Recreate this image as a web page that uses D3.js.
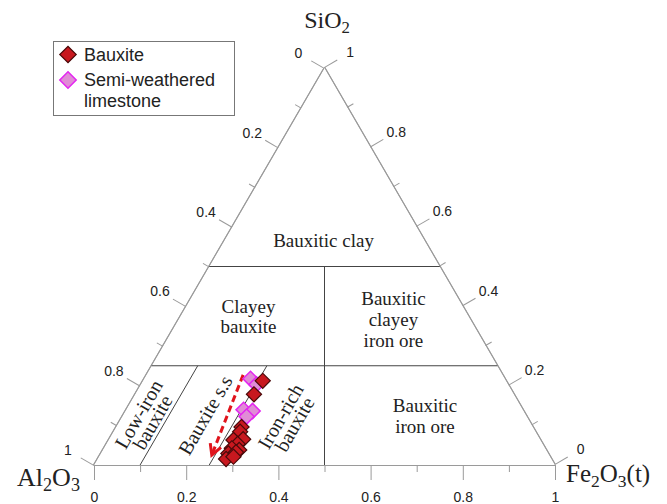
<!DOCTYPE html>
<html>
<head>
<meta charset="utf-8">
<script src="https://cdn.jsdelivr.net/npm/d3@7"></script>
<style>
  body { margin: 0; background: #fff; }
  svg { display: block; }
</style>
</head>
<body>
<div id="chart"></div>
<script>
// Ternary data (fractions). Al2O3 = 1 - SiO2 - Fe2O3
const bauxiteSiO2 = [0.212, 0.178, 0.096, 0.084, 0.063, 0.065, 0.053, 0.042, 0.038, 0.029, 0.032, 0.015, 0.021];
const bauxiteFe2O3 = [0.260, 0.258, 0.272, 0.275, 0.271, 0.291, 0.285, 0.278, 0.296, 0.277, 0.292, 0.279, 0.292];
const limestoneSiO2 = [0.217, 0.203, 0.139, 0.136, 0.122];
const limestoneFe2O3 = [0.231, 0.251, 0.255, 0.276, 0.270];

const majorTicks = [0, 0.2, 0.4, 0.6, 0.8, 1];
const minorTicks = [0.1, 0.3, 0.5, 0.7, 0.9];

// field boundaries as [SiO2, Fe2O3] pairs
const boundaries = [
    [[0.5, 0], [0.5, 0.5]],
    [[0.25, 0], [0.25, 0.75]],
    [[0.5, 0.25], [0, 0.5]],
    [[0.25, 0.1], [0, 0.1]],
    [[0.25, 0.25], [0, 0.25]]
];

// trend arrow [SiO2, Fe2O3]
const trendArrow = [[0.227, 0.210], [0.025, 0.243]];

const fieldLabels = [
    { lines: ["Bauxitic clay"], si: 0.549, fe: 0.2234, rot: 0 },
    { lines: ["Clayey", "bauxite"], si: 0.383, fe: 0.1436, rot: 0, dy: 20 },
    { lines: ["Bauxitic", "clayey", "iron ore"], si: 0.403, fe: 0.448, rot: 0, dy: 21 },
    { lines: ["Bauxitic", "iron ore"], si: 0.134, fe: 0.651, rot: 0, dy: 21.6 },
    { lines: ["Low-iron", "bauxite"], si: 0.118, fe: 0.0526, rot: -60, dy: 16 },
    { lines: ["Bauxite s.s"], si: 0.126, fe: 0.178, rot: -60 },
    { lines: ["Iron-rich", "bauxite"], si: 0.113, fe: 0.363, rot: -60, dy: 16 }
];

const width = 667, height = 504;
const plotLeft = 94, plotRight = 555, plotBase = 465, plotTop = 68;

const xScale = d3.scaleLinear().domain([0, 1]).range([plotLeft, plotRight]);
const yScale = d3.scaleLinear().domain([0, 1]).range([plotBase, plotTop]);
const project = (si, fe) => [xScale(fe + si / 2), yScale(si)];

const svg = d3.select("#chart").append("svg")
    .attr("width", width).attr("height", height);

const axisColor = "#9a9a9a";
const tickFont = "'Liberation Sans', Arial, sans-serif";
const serif = "'Liberation Serif', 'Times New Roman', serif";

const apex = project(1, 0), pAl = project(0, 0), pFe = project(0, 1);

const edge = (a, b) => {
    const dx = b[0] - a[0], dy = b[1] - a[1];
    return { len: Math.hypot(dx, dy), angle: Math.atan2(dy, dx) * 180 / Math.PI };
};

const drawAxis = (from, to, labelDist) => {
    const e = edge(from, to);
    const s = d3.scaleLinear().domain([0, 1]).range([0, e.len]);
    const g = svg.append("g")
        .attr("transform", `translate(${from[0]},${from[1]}) rotate(${e.angle})`);
    g.append("g").call(d3.axisBottom(s).tickValues(minorTicks).tickSize(7).tickSizeOuter(0).tickFormat(""));
    const major = g.append("g").call(d3.axisBottom(s).tickValues(majorTicks).tickSize(15).tickSizeOuter(0)
        .tickFormat(d3.format("")));
    g.selectAll("path, line").attr("stroke", axisColor).attr("stroke-width", 1);
    major.selectAll("text")
        .attr("y", 0).attr("dy", "0.35em")
        .attr("transform", `translate(0,${labelDist}) rotate(${-e.angle})`)
        .attr("text-anchor", "middle")
        .style("font-family", tickFont).style("font-size", "14px").attr("fill", "#222");
};

drawAxis(apex, pAl, 30);   // Al2O3 (0 at apex, 1 at Al2O3 corner)
drawAxis(pFe, apex, 30);   // SiO2 (0 at Fe2O3 corner, 1 at apex)
drawAxis(pAl, pFe, 32);    // Fe2O3

// field boundaries
svg.append("g").selectAll("line").data(boundaries).join("line")
    .attr("x1", d => project(...d[0])[0]).attr("y1", d => project(...d[0])[1])
    .attr("x2", d => project(...d[1])[0]).attr("y2", d => project(...d[1])[1])
    .attr("stroke", "#444").attr("stroke-width", 1);

// field labels
fieldLabels.forEach(l => {
    const p = project(l.si, l.fe);
    const t = svg.append("text")
        .attr("transform", `translate(${p[0]},${p[1]}) rotate(${l.rot})`)
        .attr("text-anchor", "middle")
        .style("font-family", serif).style("font-size", l.rot ? "20px" : "19px").attr("fill", "#222");
    const n = l.lines.length;
    l.lines.forEach((line, i) => {
        const off = l.rot ? (i - (n - 1) / 2) * (l.dy || 0) : i * (l.dy || 0);
        t.append("tspan").attr("x", 0).attr("y", off)
            .attr("dy", l.rot ? "0.35em" : 0).text(line);
    });
});

// trend arrow
const a0 = project(...trendArrow[0]), a1 = project(...trendArrow[1]);
svg.append("line")
    .attr("x1", a0[0]).attr("y1", a0[1]).attr("x2", a1[0]).attr("y2", a1[1])
    .attr("stroke", "#e0141c").attr("stroke-width", 3).attr("stroke-dasharray", "7,4");
const ang = Math.atan2(a1[1] - a0[1], a1[0] - a0[0]);
const head = [ang + Math.PI - 0.5, ang + Math.PI + 0.5].map(a => [a1[0] + 12 * Math.cos(a), a1[1] + 12 * Math.sin(a)]);
svg.append("path")
    .attr("d", d3.line()([head[0], a1, head[1]]))
    .attr("fill", "none").attr("stroke", "#e0141c").attr("stroke-width", 3);

// markers
const diamond = d3.symbol().type(d3.symbolSquare).size(115);
const limestone = limestoneSiO2.map((si, i) => project(si, limestoneFe2O3[i]));
const bauxite = bauxiteSiO2.map((si, i) => project(si, bauxiteFe2O3[i]));

svg.append("g").selectAll("path").data(limestone).join("path")
    .attr("d", diamond)
    .attr("transform", d => `translate(${d[0]},${d[1]}) rotate(45)`)
    .attr("fill", "#e08cd6").attr("stroke", "#e326f0").attr("stroke-width", 1.5);

svg.append("g").selectAll("path").data(bauxite).join("path")
    .attr("d", diamond)
    .attr("transform", d => `translate(${d[0]},${d[1]}) rotate(45)`)
    .attr("fill", "#c8181f").attr("stroke", "#4a0a0a").attr("stroke-width", 1.2);

// vertex titles
const title = (x, y, anchor, size, parts) => {
    const t = svg.append("text").attr("x", x).attr("y", y).attr("text-anchor", anchor)
        .style("font-family", serif).style("font-size", size + "px").attr("fill", "#222");
    parts.forEach(p => {
        const s = t.append("tspan").text(p[0]);
        if (p[1]) s.attr("baseline-shift", "-28%").style("font-size", (size * 0.7) + "px");
    });
};
title(327, 28, "middle", 24, [["SiO"], ["2", true]]);
title(17, 486, "start", 26, [["Al"], ["2", true], ["O"], ["3", true]]);
title(566, 482, "start", 25, [["Fe"], ["2", true], ["O"], ["3", true], ["(t)"]]);

// legend
const legend = svg.append("g");
legend.append("rect").attr("x", 53.5).attr("y", 41.5).attr("width", 181).attr("height", 74)
    .attr("fill", "#fff").attr("stroke", "#777");
const legendDiamond = d3.symbol().type(d3.symbolSquare).size(135);
legend.append("path").attr("d", legendDiamond).attr("transform", "translate(68,54.5) rotate(45)")
    .attr("fill", "#c8181f").attr("stroke", "#4a0a0a").attr("stroke-width", 1.2);
legend.append("path").attr("d", legendDiamond).attr("transform", "translate(68,80) rotate(45)")
    .attr("fill", "#e08cd6").attr("stroke", "#e326f0").attr("stroke-width", 1.5);
const legendText = [["Bauxite", 61], ["Semi-weathered", 86], ["limestone", 107]];
legend.selectAll("text").data(legendText).join("text")
    .attr("x", 84).attr("y", d => d[1]).text(d => d[0])
    .style("font-family", tickFont).style("font-size", "18px").attr("fill", "#222");
</script>
</body>
</html>
